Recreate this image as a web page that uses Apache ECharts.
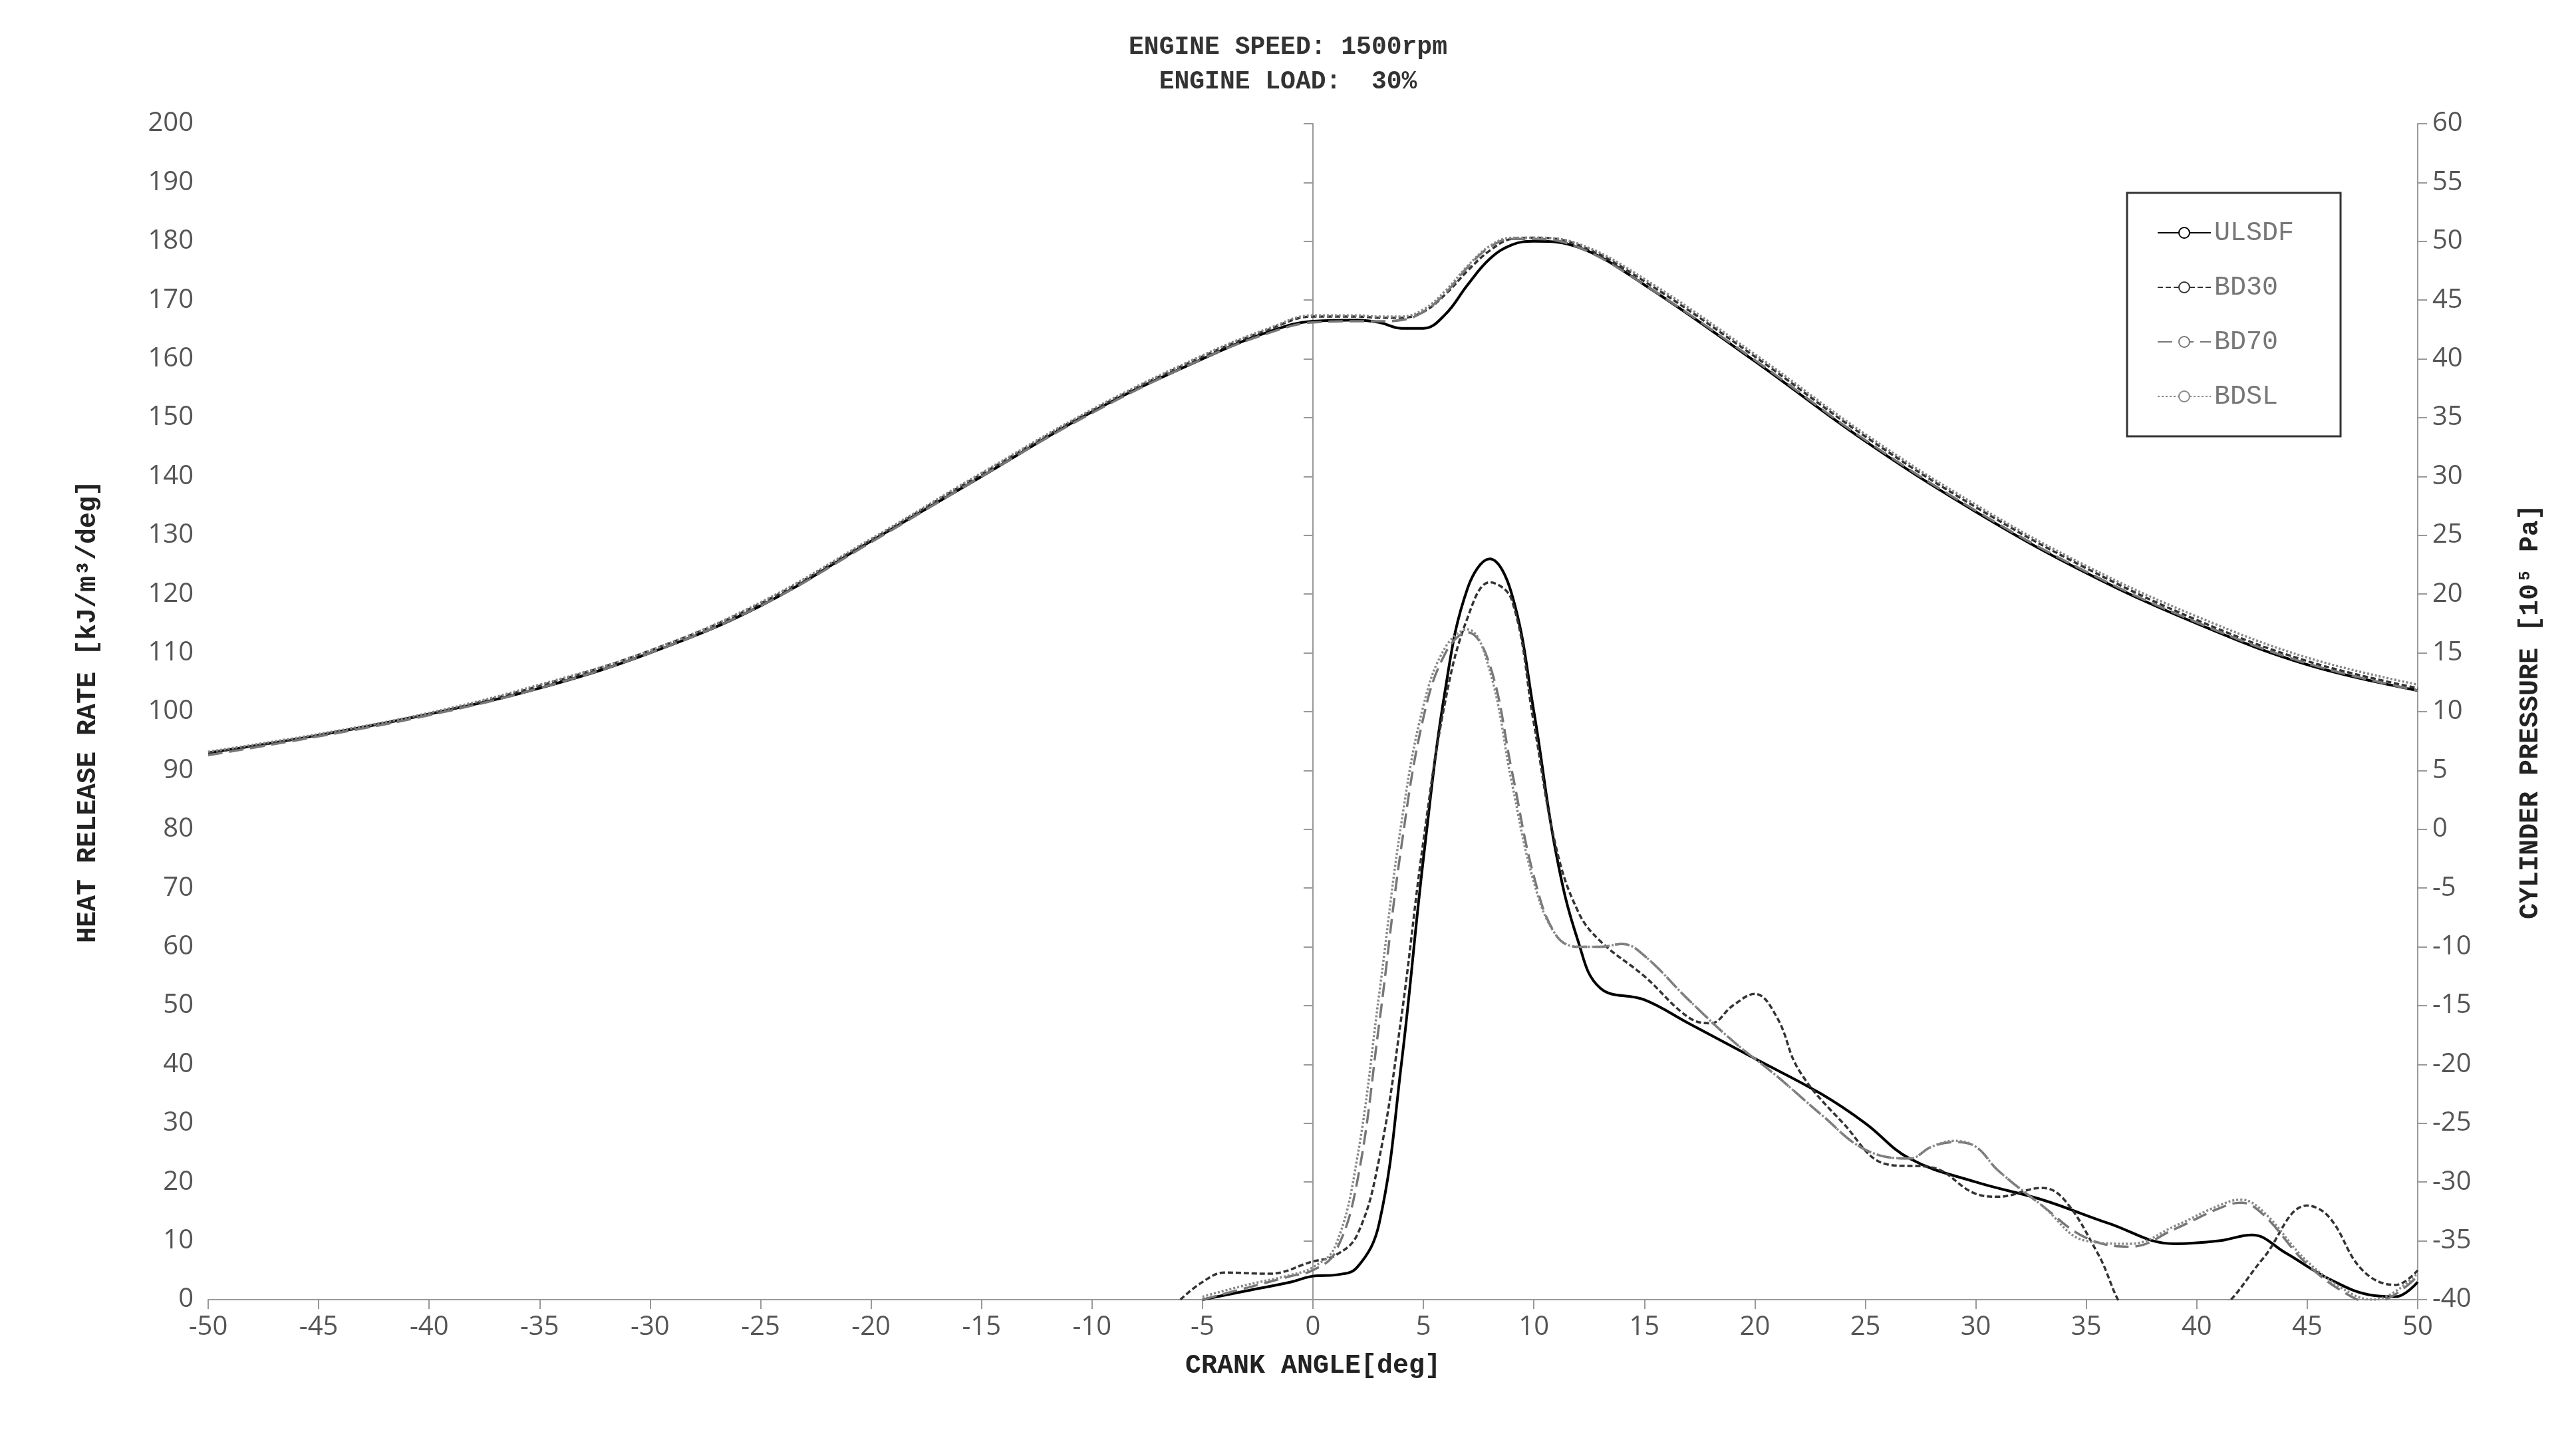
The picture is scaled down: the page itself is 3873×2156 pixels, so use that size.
<!DOCTYPE html>
<html>
<head>
<meta charset="utf-8">
<script src="https://cdn.jsdelivr.net/npm/echarts@6/dist/echarts.min.js"></script>
<style>html,body{margin:0;background:#fff}#chart{width:3873px;height:2156px}</style>
</head>
<body>
<div id="chart"></div>
<script>
// cylinder pressure (right axis, 10^5 Pa) -- [crank angle, value]
var pressULSDF = [[-50,6.5],[-45,8],[-40,9.8],[-35,12],[-30,15],[-25,19],[-20,24.5],[-15,30],[-10,35.5],[-5,40],[-2,42.3],[0,43.2],[2,43.3],[3,43.1],[4,42.6],[5,42.6],[6,43.8],[7,46.3],[8,48.5],[9,49.7],[10,50],[12,49.5],[15,46.3],[20,39.8],[25,33],[30,27],[35,21.8],[40,17.5],[45,14],[50,11.8]];
var pressBD30 = [[-50,6.5],[-45,8],[-40,9.8],[-35,12.2],[-30,15.2],[-25,19.2],[-20,24.6],[-15,30.2],[-10,35.6],[-5,40.2],[-2,42.5],[0,43.6],[2,43.6],[3,43.5],[4,43.5],[5,44],[6,45.5],[7,47.5],[8,49.2],[9,50.2],[10,50.3],[12,49.7],[15,46.6],[20,40.2],[25,33.4],[30,27.4],[35,22.2],[40,17.8],[45,14.3],[50,12]];
var pressBD70 = [[-50,6.3],[-45,7.9],[-40,9.7],[-35,12],[-30,15],[-25,19],[-20,24.4],[-15,30],[-10,35.4],[-5,40],[-2,42.2],[0,43.1],[2,43.2],[3,43.2],[4,43.3],[5,44],[6,45.6],[7,47.8],[8,49.5],[9,50.2],[10,50.2],[12,49.5],[15,46.3],[20,39.9],[25,33.1],[30,27.1],[35,21.9],[40,17.6],[45,14.1],[50,11.8]];
var pressBDSL = [[-50,6.6],[-45,8.1],[-40,9.9],[-35,12.3],[-30,15.2],[-25,19.3],[-20,24.7],[-15,30.3],[-10,35.7],[-5,40.3],[-2,42.6],[0,43.7],[2,43.7],[3,43.6],[4,43.6],[5,44.2],[6,45.8],[7,47.9],[8,49.6],[9,50.3],[10,50.3],[12,49.8],[15,46.8],[20,40.4],[25,33.6],[30,27.6],[35,22.4],[40,18.1],[45,14.6],[50,12.3]];

// heat release rate (left axis, kJ/m3/deg)
var hrrULSDF = [[-5,0],[-3,1.5],[-1,3],[0,4],[1,4.2],[2,5.5],[3,13],[4,40],[5,75],[6,104],[7,121],[8,126],[9,120],[10,100],[11,76],[12,61],[13,53],[15,51],[17,47],[20,41],[23,35],[25,30],[27,24],[30,20],[33,17],[36,13],[39,9.5],[41,10],[42.5,11],[44,8],[46,3.5],[48,0.7],[49,0.5],[50,3]];
var hrrBD30 = [[-6,0],[-5,3],[-4,4.6],[-2,4.4],[0,6.5],[1,7.5],[2,11],[3,24],[4,48],[5,78],[6,102],[7,116],[8,122],[9,119],[10,98],[11,77],[12,66],[13,61],[15,55],[17,48],[18,47],[19,50],[20,52],[21,48],[22,39],[24,30],[26,23],[28,22.5],[30,18],[31,17.5],[33,19],[34,17],[35.5,8],[37,-3],[39,-6],[41,-2],[43,7],[45,16],[46,14],[47.5,5],[49,2.5],[50,5]];
var hrrBD70 = [[-5,0],[-3,2],[-1,4],[0,5],[1,8],[2,20],[3,47],[4,77],[5,99],[6,110],[7,113.5],[8,108],[9,90],[10,72],[11,62],[12,60],[13,60],[14,60.5],[15,58.5],[17,51],[19,44],[21,38],[23,31.5],[25,25.5],[27,24],[28,26],[29,26.8],[30,26],[31,22],[33,16],[35,10.5],[37,9],[39,12],[41,15.5],[42,16.5],[43,14.5],[45,6],[47,0.5],[48,-0.5],[50,4]];
var hrrBDSL = [[-5,0.5],[-3,2.5],[-1,4.2],[0,5.5],[1,9],[2,24],[3,52],[4,81],[5,101],[6,111],[7,114],[8,107],[9,88],[10,71],[11,62],[12,60],[13,60],[14,60.5],[15,58.5],[17,51],[19,44],[21,38],[23,31.5],[25,25.5],[27,24],[28,26],[29,27],[30,26],[31,22],[33,16],[35,10],[37,9.5],[39,12.5],[41,16],[42,17],[43,15],[45,6.5],[47,1],[48,0],[50,4.5]];

var names = ["ULSDF", "BD30", "BD70", "BDSL"];
var press = [pressULSDF, pressBD30, pressBD70, pressBDSL];
var hrr = [hrrULSDF, hrrBD30, hrrBD70, hrrBDSL];
var colors = ["#000000", "#333333", "#777777", "#888888"];
var types = ["solid", [8, 4], [22, 10], [3, 3]];

var mono = "Liberation Mono";
var sans = "Open Sans";

var series = [];
for (let i = 0; i < names.length; i++) {
  let style = { color: colors[i], width: i == 0 ? 4 : 3.5, type: types[i] };
  series.push({
    name: names[i], type: "line", yAxisIndex: 1, data: press[i],
    smooth: 0.4, showSymbol: false, lineStyle: style, itemStyle: { color: colors[i] },
  });
  series.push({
    name: names[i], type: "line", yAxisIndex: 0, data: hrr[i],
    smooth: 0.4, showSymbol: false, lineStyle: style, itemStyle: { color: colors[i] },
  });
}

var axisLabel = { color: "#555", fontFamily: sans, fontSize: 40, margin: 22 };
var axisLine = { show: true, lineStyle: { color: "#999", width: 2 } };
var axisTick = { show: true, length: 14, lineStyle: { color: "#999", width: 2 } };
var nameStyle = { color: "#222", fontFamily: mono, fontWeight: "bold", fontSize: 40 };

var myChart = echarts.init(document.getElementById("chart"), null, { renderer: "canvas" });
var option = {
  backgroundColor: "#fff",
  animation: false,
  title: {
    text: "ENGINE SPEED: 1500rpm\nENGINE LOAD:  30%",
    left: "center", top: 40,
    textStyle: { fontFamily: mono, fontWeight: "bold", fontSize: 38, color: "#333", lineHeight: 52, whiteSpace: "pre" },
  },
  legend: {
    data: names, orient: "vertical", left: 3198, top: 290,
    padding: [40, 70, 40, 45], itemGap: 42, itemWidth: 80, itemHeight: 20,
    borderColor: "#333", borderWidth: 3, backgroundColor: "#fff",
    textStyle: { fontFamily: mono, fontSize: 40, color: "#777" },
  },
  grid: { left: 313, right: 238, top: 186, bottom: 202 },
  xAxis: {
    type: "value", min: -50, max: 50, interval: 5,
    name: "CRANK ANGLE[deg]", nameLocation: "middle", nameGap: 80, nameTextStyle: nameStyle,
    axisLabel: axisLabel, axisLine: axisLine, axisTick: axisTick, splitLine: { show: false },
  },
  yAxis: [
    {
      type: "value", min: 0, max: 200, interval: 10,
      name: "HEAT RELEASE RATE [kJ/m³/deg]", nameLocation: "middle", nameGap: 160, nameTextStyle: nameStyle,
      axisLabel: axisLabel, axisLine: axisLine, axisTick: axisTick, splitLine: { show: false },
    },
    {
      type: "value", min: -40, max: 60, interval: 5, position: "right",
      name: "CYLINDER PRESSURE [10⁵ Pa]", nameLocation: "middle", nameGap: 150, nameRotate: 90, nameTextStyle: nameStyle,
      axisLabel: axisLabel, axisLine: axisLine, axisTick: axisTick, splitLine: { show: false },
    },
  ],
  series: series,
};
myChart.setOption(option);
</script>
</body>
</html>
